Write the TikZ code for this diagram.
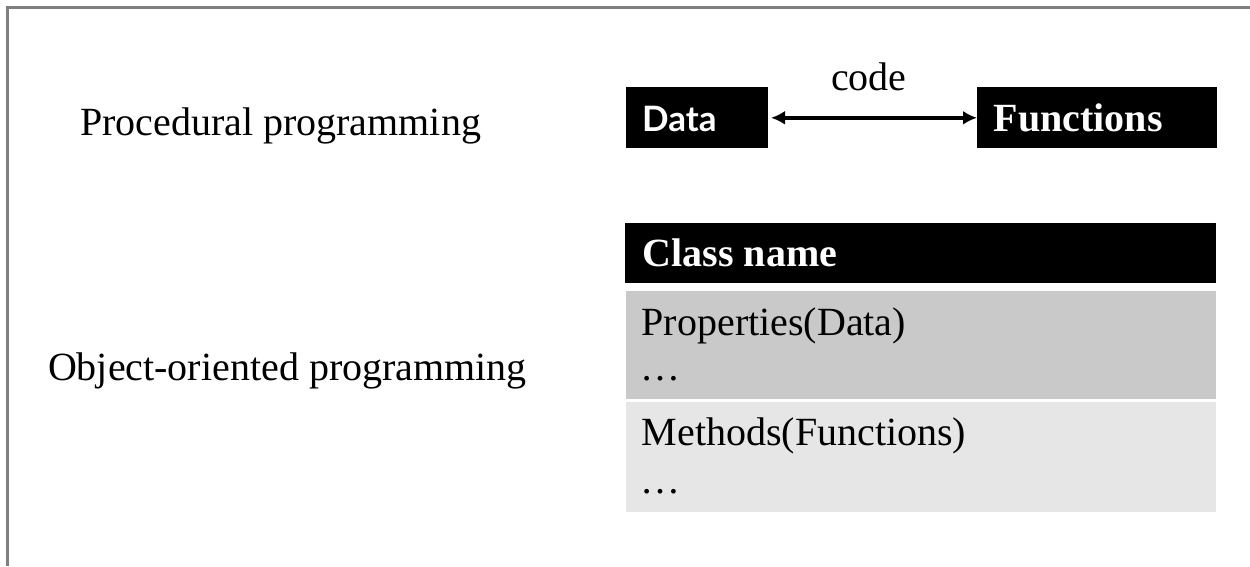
\documentclass[tikz,border=0pt]{standalone}
\usepackage{fontspec}
\setmainfont{Liberation Serif}
\newfontfamily\datafont{Lato}
\usetikzlibrary{arrows.meta}
\definecolor{framegray}{HTML}{7F7F7F}
\definecolor{propgray}{HTML}{C9C9C9}
\definecolor{methgray}{HTML}{E6E6E6}
\tikzset{
  blackbox/.style={fill=black, draw=none, inner sep=0pt, outer sep=0pt},
  graybox/.style={draw=none, inner sep=0pt, outer sep=0pt},
  txt/.style={anchor=base west, inner sep=0pt, outer sep=0pt, font=\fontsize{40}{48}\selectfont},
  whitebold/.style={txt, text=white, font=\fontsize{40}{48}\selectfont\bfseries},
  frameline/.style={draw=framegray, line width=2.5pt},
  dblarrow/.style={line width=4pt, {Latex[length=14pt,width=14pt]}-{Latex[length=14pt,width=14pt]}}
}
\begin{document}
\begin{tikzpicture}[x=1pt,y=-1pt]
\useasboundingbox (0,0) rectangle (1250,566);
% frame (top and left)
\coordinate (ftr) at (1250,7.5);
\coordinate (ftl) at (7.7,7.5);
\coordinate (fbl) at (7.7,566);
\draw[frameline] (ftr) -- (ftl) -- (fbl);
% left labels
\node[txt] (proc) at (80,135.7) {Procedural programming};
\node[txt] (oop) at (48,380) {Object-oriented programming};
% procedural boxes
\node[blackbox, minimum width=142pt, minimum height=61pt] (data) at (697,117.8) {};
\node[blackbox, minimum width=240pt, minimum height=61pt] (fun) at (1097,117.8) {};
\node[anchor=base west, inner sep=0pt, text=white, font=\datafont\fontsize{35}{40}\selectfont\bfseries] (datat) at (642,131.7) {Data};
\node[whitebold] (funt) at (993.7,131.7) {Functions};
\draw[dblarrow, shorten <=3pt] (data.east) -- (fun.west);
\node[txt] (code) at (831,90) {code};
% class box
\node[blackbox, minimum width=591pt, minimum height=60.5pt] (cls) at (920.5,253) {};
\node[graybox, fill=propgray, minimum width=590pt, minimum height=108.5pt] (prop) at (921,345) {};
\node[graybox, fill=methgray, minimum width=590pt, minimum height=110.5pt] (meth) at (921,457) {};
\node[whitebold] (clst) at (642.7,266.7) {Class name};
\node[txt] (propt) at (641.7,335) {Properties(Data)};
\node[txt] (propd) at (640.5,380) {\ldots};
\node[txt] (metht) at (641.7,445.7) {Methods(Functions)};
\node[txt] (methd) at (640.5,493) {\ldots};
\end{tikzpicture}
\end{document}
